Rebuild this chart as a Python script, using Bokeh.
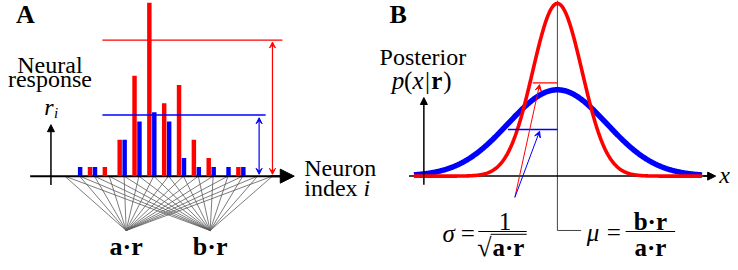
import numpy as np
from bokeh.plotting import figure
from bokeh.models import Range1d, Arrow, NormalHead, VeeHead
from bokeh.core.properties import value
from bokeh.embed import file_html
from bokeh.resources import INLINE

# ---------------- Panel A data: spike counts per neuron ----------------
neuron_index = [0, 1, 2, 3, 4, 5, 6, 7, 8, 9, 10, 11]
spikes_red = [0, 1, 1, 4, 11, 19, 8, 10, 4, 2, 0, 1]
spikes_blue = [1, 1, 0, 4, 6, 7, 6, 2, 1, 1, 1, 1]
gain_red = 14.9
gain_blue = 6.7

# ---------------- Panel B data: Gaussian posteriors ----------------
mu = 0.0
sigma_red = 1.0
sigma_blue = 2.0

RED = "#ff0000"
BLUE = "#0000ff"
SERIF = value("Liberation Serif")
TEXT_DY = -7  # compensate baseline placement of the svg text

# one canvas; panel A uses the default ranges, panel B the extra ranges "B"
p = figure(width=730, height=262, x_range=Range1d(-5.2, 44.0), y_range=Range1d(-9.468, 19.255),
           output_backend="svg", toolbar_location=None, min_border=0,
           x_axis_location=None, y_axis_location=None)
p.extra_x_ranges = {"B": Range1d(-22.52, 7.0)}
p.extra_y_ranges = {"B": Range1d(-0.1996, 0.4058)}
p.grid.visible = False
p.outline_line_color = None
p.background_fill_color = "white"
B = dict(x_range_name="B", y_range_name="B")

def txt(x, y, s, size, style="normal", align="center", color="black", **kw):
    p.text(x=[x], y=[y], text=[s], text_font=SERIF, text_font_size=value(size),
           text_font_style=style, text_align=align, text_baseline="alphabetic",
           text_color=color, y_offset=TEXT_DY, **kw)

# ======================= Panel A =======================
fan_starts = [-0.87 + k for k in range(15)]
apex_a, apex_b, apex_y = 3.27, 8.93, -5.96
xs, ys = [], []
for s in fan_starts:
    for ax in (apex_a, apex_b):
        xs.append([s, ax]); ys.append([0, apex_y])
p.multi_line(xs, ys, line_color="#5a5a5a", line_width=0.8)

p.line([-3.2, 13.7], [0, 0], line_color="black", line_width=2)
p.add_layout(Arrow(end=NormalHead(size=14, fill_color="black", line_color="black"),
                   x_start=13.0, y_start=0, x_end=14.6, y_end=0, line_width=2))
p.add_layout(Arrow(end=NormalHead(size=7, fill_color="black", line_color="black"),
                   x_start=-1.8, y_start=-0.96, x_end=-1.8, y_end=5.64, line_width=1.5))

off = 0.167
rx = [i - off for i, v in zip(neuron_index, spikes_red) if v > 0]
rv = [v for v in spikes_red if v > 0]
bx = [i + off for i, v in zip(neuron_index, spikes_blue) if v > 0]
bv = [v for v in spikes_blue if v > 0]
p.vbar(x=rx, top=rv, bottom=0, width=0.3, fill_color=RED, line_color=None)
p.vbar(x=bx, top=bv, bottom=0, width=0.3, fill_color=BLUE, line_color=None)

p.line([1.67, 13.8], [gain_red, gain_red], line_color=RED, line_width=1.2)
p.line([1.67, 12.67], [gain_blue, gain_blue], line_color=BLUE, line_width=1.3)
p.add_layout(Arrow(start=VeeHead(size=6, line_color=RED, fill_color=RED),
                   end=VeeHead(size=6, line_color=RED, fill_color=RED),
                   x_start=fan_starts[14], y_start=0.2, x_end=fan_starts[14], y_end=gain_red - 0.2,
                   line_color=RED, line_width=1.2))
p.add_layout(Arrow(start=VeeHead(size=6, line_color=BLUE, fill_color=BLUE),
                   end=VeeHead(size=6, line_color=BLUE, fill_color=BLUE),
                   x_start=fan_starts[13] + 0.1, y_start=0.2, x_end=fan_starts[13] + 0.1, y_end=gain_blue - 0.3,
                   line_color=BLUE, line_width=1.2))

txt(-3.53, 16.9, "A", "26px", "bold")
txt(-1.87, 11.38, "Neural", "24px")
txt(-1.87, 9.9, "response", "24px")
txt(-1.93, 6.81, "r", "24px", "italic")
txt(-1.6, 6.17, "i", "15px", "italic", align="left")
txt(15.27, 0.1, "Neuron", "24px", align="left")
txt(15.27, -2.02, "index", "24px", align="left")
txt(19.27, -2.02, "i", "24px", "italic", align="left")
txt(apex_a, -8.45, "a·r", "26px", "bold")
txt(apex_b, -8.45, "b·r", "26px", "bold")

# ======================= Panel B =======================
def gauss(x, m, s):
    return np.exp(-0.5 * ((x - m) / s) ** 2) / (s * np.sqrt(2 * np.pi))

xg = np.linspace(-5.8, 5.85, 400)

p.line([mu, mu, mu + 0.96], [0.406, -0.1256, -0.1256], line_color="#444444", line_width=1, **B)

p.line([-6.0, 6.1], [0, 0], line_color="black", line_width=1.5, **B)
p.add_layout(Arrow(end=NormalHead(size=8, fill_color="black", line_color="black"),
                   x_start=5.9, y_start=0, x_end=6.4, y_end=0, line_width=1.5, **B))
p.add_layout(Arrow(end=NormalHead(size=7, fill_color="black", line_color="black"),
                   x_start=-5.4, y_start=-0.0202, x_end=-5.4, y_end=0.1816, line_width=1.5, **B))

p.line(xg, gauss(xg, mu, sigma_blue), line_color=BLUE, line_width=5.5, **B)
p.line(xg, gauss(xg, mu, sigma_red), line_color=RED, line_width=3.6, **B)

frac = 0.54
hr = frac * gauss(mu, mu, sigma_red)
hb = frac * gauss(mu, mu, sigma_blue)
p.line([mu - sigma_red, mu], [hr, hr], line_color=RED, line_width=1.3, **B)
p.line([mu - sigma_blue, mu], [hb, hb], line_color=BLUE, line_width=1.5, **B)
p.add_layout(Arrow(end=VeeHead(size=6, line_color=RED, fill_color=RED),
                   x_start=-1.72, y_start=-0.049, x_end=mu - 0.72 * sigma_red, y_end=hr - 0.004,
                   line_color=RED, line_width=1, **B))
p.add_layout(Arrow(end=VeeHead(size=6, line_color=BLUE, fill_color=BLUE),
                   x_start=-1.72, y_start=-0.049, x_end=mu - 0.72 * sigma_red, y_end=hb - 0.004,
                   line_color=BLUE, line_width=1, **B))

txt(-6.44, 0.3565, "B", "26px", "bold", **B)
txt(-5.44, 0.26, "Posterior", "24px", **B)
txt(-6.7, 0.204, "p", "25px", "italic", align="left", **B)
txt(-6.2, 0.204, "(", "25px", align="left", **B)
txt(-5.86, 0.204, "x", "25px", "italic", align="left", **B)
txt(-5.25, 0.204, "|", "25px", **B)
txt(-5.1, 0.204, "r", "25px", "bold", align="left", **B)
txt(-4.62, 0.204, ")", "25px", align="left", **B)
txt(6.76, -0.0135, "x", "24px", "italic", **B)

# sigma formula
txt(-4.4, -0.148, "σ", "25px", "italic", **B)
txt(-3.62, -0.148, "=", "25px", **B)
p.line([-3.2, -1.24], [-0.128, -0.128], line_color="black", line_width=1, **B)
txt(-2.12, -0.121, "1", "25px", **B)
txt(-2.95, -0.1816, "√", "26px", **B)
p.line([-2.7, -1.24], [-0.1345, -0.1345], line_color="black", line_width=1, **B)
txt(-1.98, -0.1816, "a·r", "25px", "bold", **B)

# mu formula
txt(1.44, -0.146, "μ", "25px", "italic", **B)
txt(2.28, -0.146, "=", "25px", **B)
p.line([2.76, 4.76], [-0.128, -0.128], line_color="black", line_width=1, **B)
txt(3.76, -0.121, "b·r", "25px", "bold", **B)
txt(3.76, -0.1816, "a·r", "25px", "bold", **B)

open("out.html", "w").write(file_html(p, INLINE))
